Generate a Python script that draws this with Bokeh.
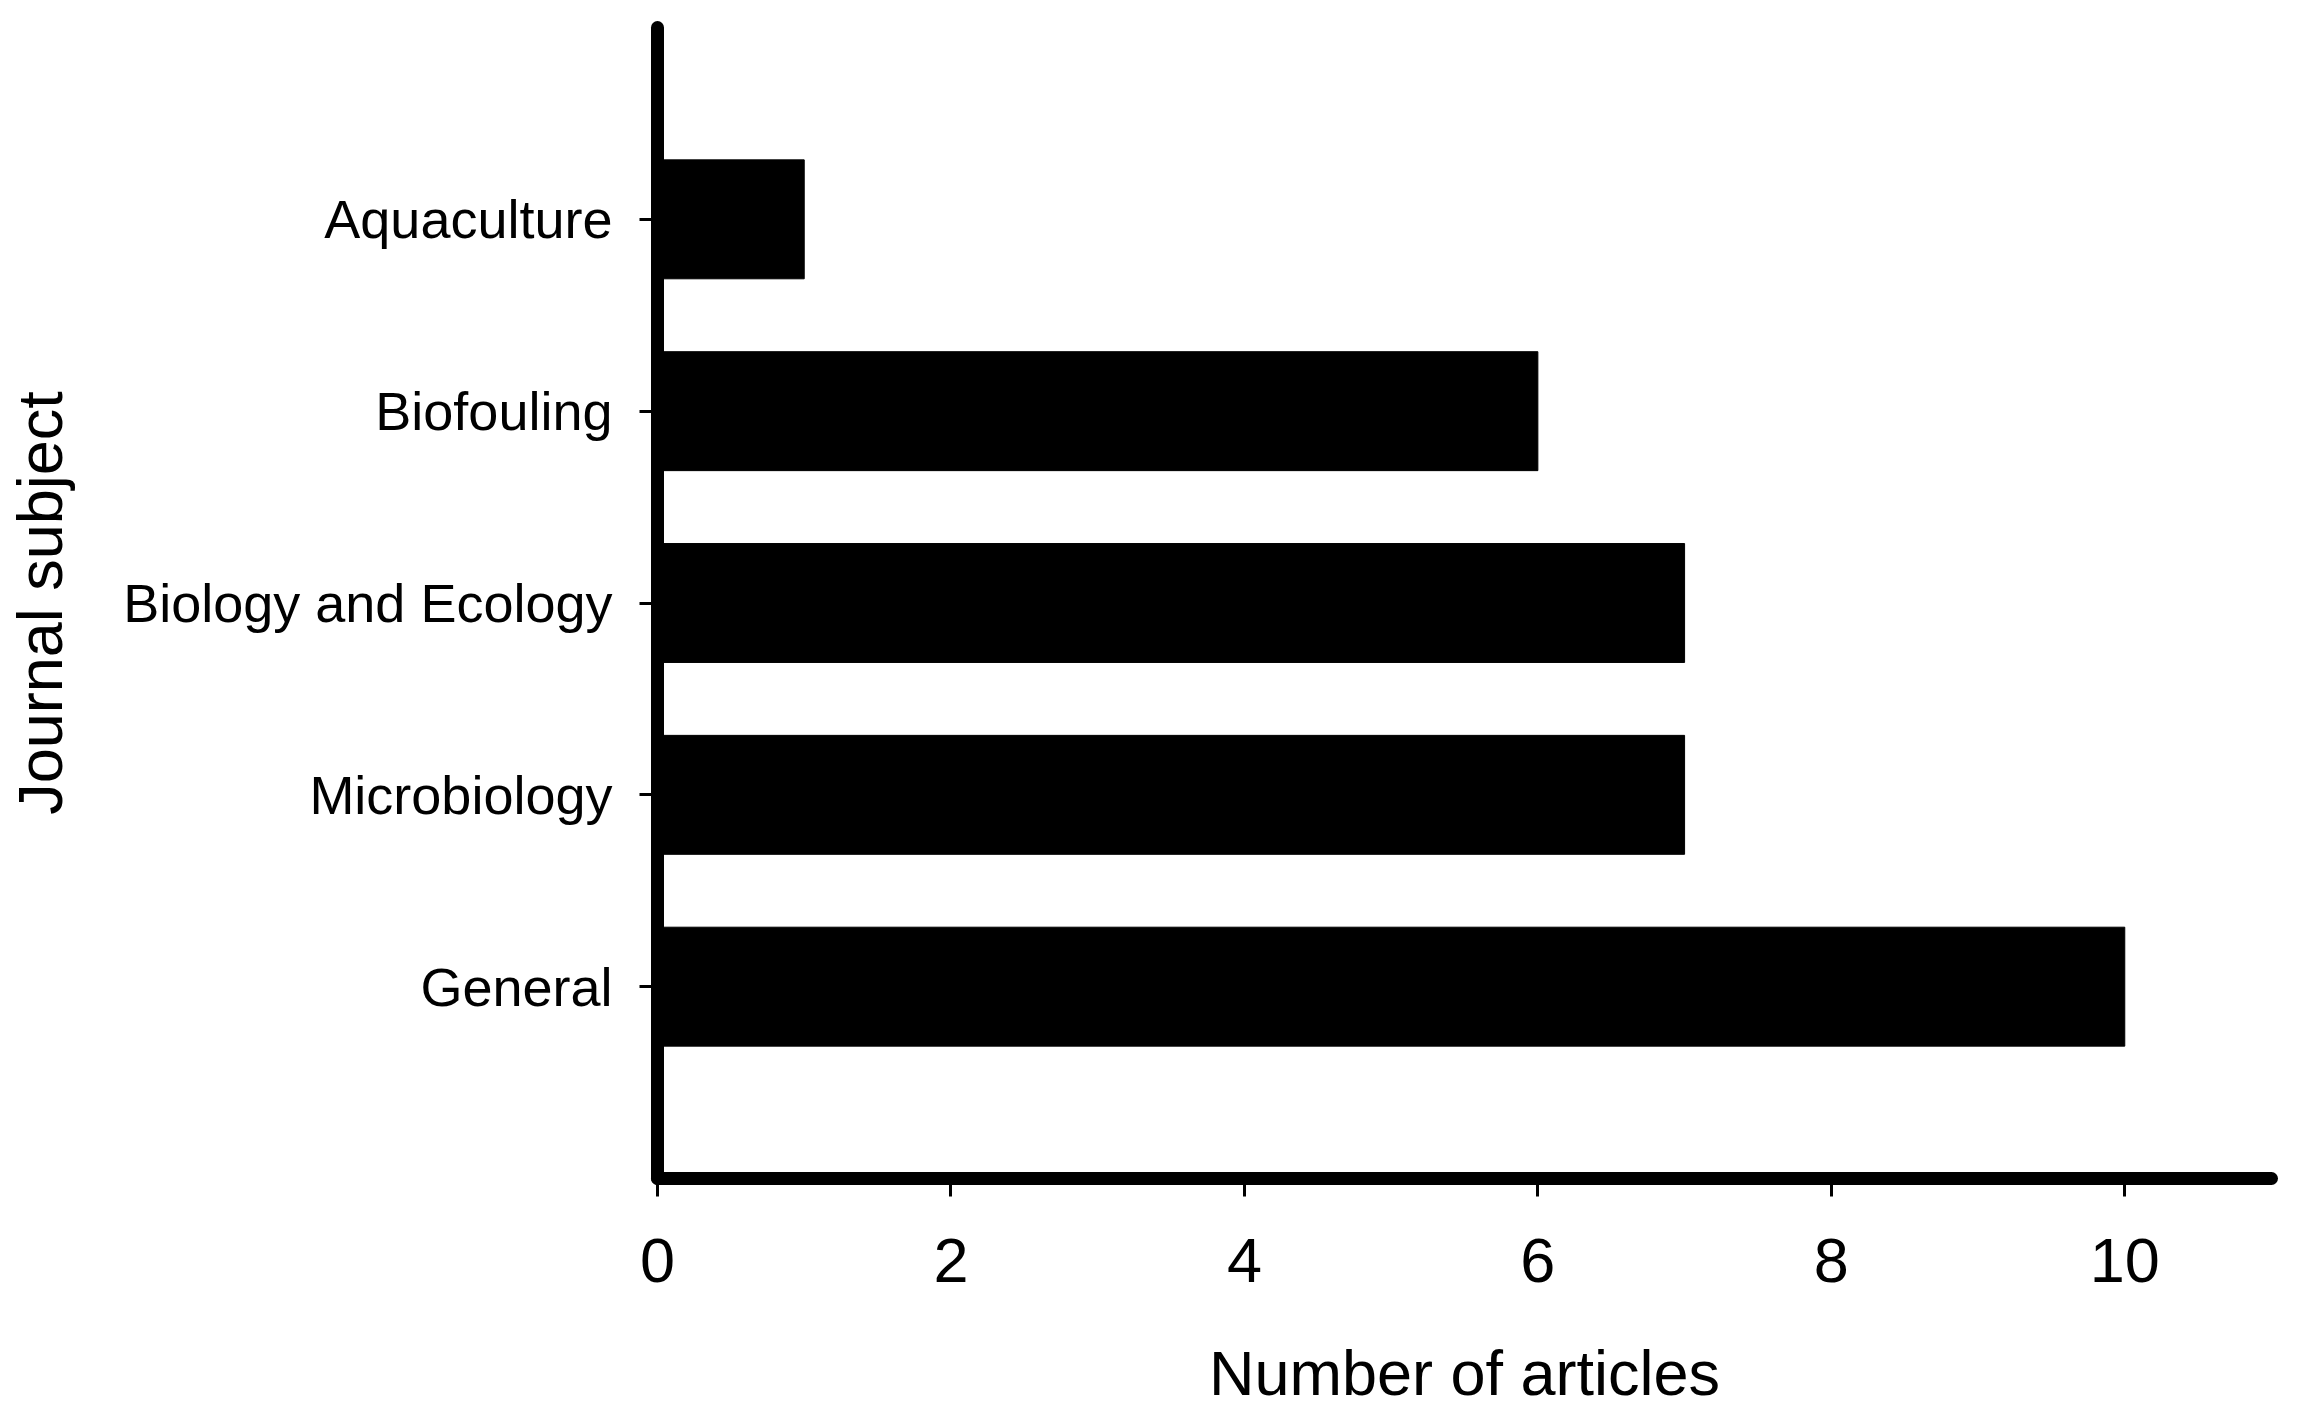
from bokeh.plotting import figure
from bokeh.models import FixedTicker, Range1d
from bokeh.embed import file_html
from bokeh.resources import INLINE

# Data
categories = ["General", "Microbiology", "Biology and Ecology", "Biofouling", "Aquaculture"]
positions = [1, 2, 3, 4, 5]
articles = [10, 7, 7, 6, 1]
x_ticks = [0, 2, 4, 6, 8, 10]

FONT = "Liberation Sans"

p = figure(width=2282, height=1411, output_backend="svg", toolbar_location=None,
           x_range=Range1d(0, 11), y_range=Range1d(0, 6))
p.min_border_left = 657
p.min_border_right = 11
p.min_border_top = 27
p.min_border_bottom = 233
p.outline_line_alpha = 0
p.background_fill_color = "white"
p.border_fill_color = "white"
p.grid.visible = False

p.hbar(y=positions, right=articles, left=0, height=0.62,
       fill_color="black", line_color="black", line_width=1)

for ax in (p.xaxis[0], p.yaxis[0]):
    ax.axis_line_width = 13
    ax.axis_line_color = "black"
    ax.axis_line_cap = "round"
    ax.major_tick_line_width = 3
    ax.major_tick_line_color = "black"
    ax.major_tick_in = 0
    ax.minor_tick_line_alpha = 0
    ax.major_label_text_font = FONT
    ax.major_label_text_color = "black"
    ax.axis_label_text_font = FONT
    ax.axis_label_text_font_style = "normal"
    ax.axis_label_text_color = "black"

xa = p.xaxis[0]
xa.ticker = FixedTicker(ticks=x_ticks)
xa.major_tick_out = 18
xa.major_label_standoff = 42
xa.major_label_text_font_size = "63px"
xa.axis_label = "Number of articles"
xa.axis_label_text_font_size = "63px"
xa.axis_label_standoff = 53

ya = p.yaxis[0]
ya.ticker = FixedTicker(ticks=positions)
ya.major_label_overrides = {pos: c for pos, c in zip(positions, categories)}
ya.major_tick_out = 18
ya.major_label_standoff = 27
ya.major_label_text_font_size = "54px"
ya.axis_label = "Journal subject"
ya.axis_label_text_font_size = "63px"
ya.axis_label_standoff = 45

open("out.html", "w").write(file_html(p, INLINE))
